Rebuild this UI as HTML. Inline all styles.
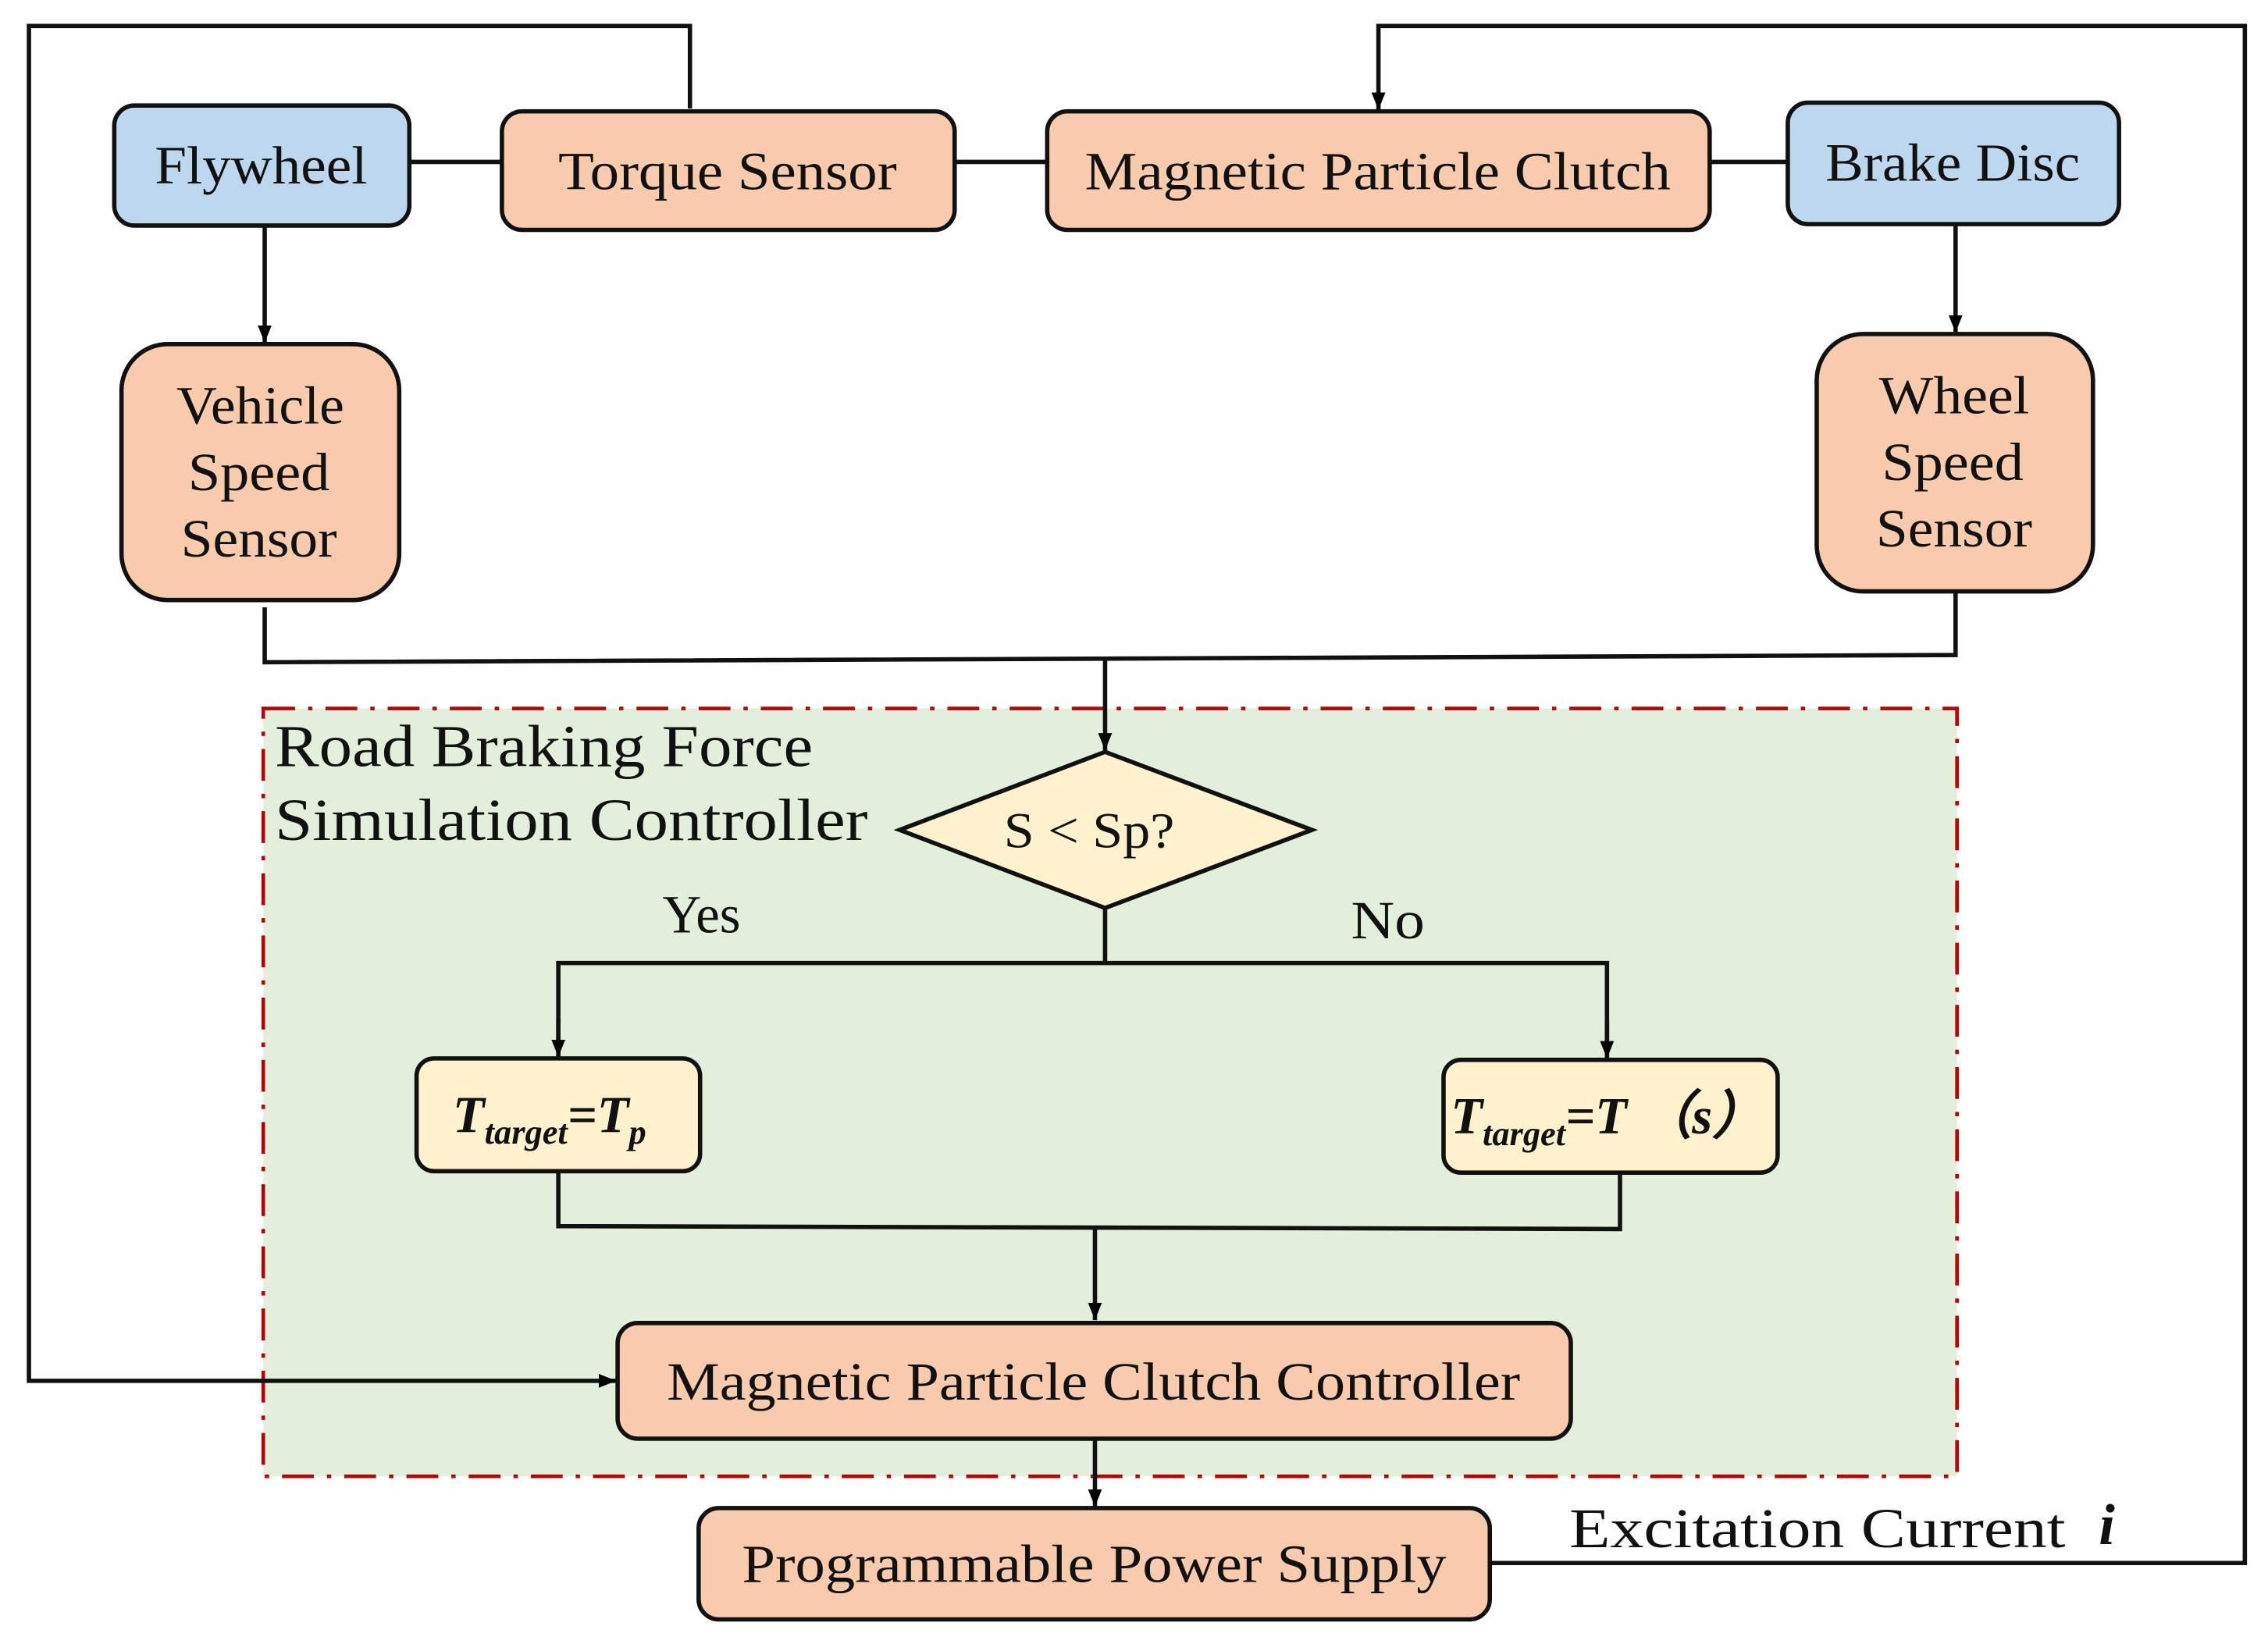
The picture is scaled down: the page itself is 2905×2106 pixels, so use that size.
<!DOCTYPE html>
<html><head><meta charset="utf-8"><style>
html,body{margin:0;padding:0;background:#fff;}
svg{display:block;}
text{font-family:"Liberation Serif",serif;fill:#111;}
</style></head><body>
<svg width="2905" height="2106" viewBox="0 0 1568 1137" preserveAspectRatio="none" xmlns="http://www.w3.org/2000/svg">
<defs>
<marker id="b" viewBox="0 0 10 10" refX="10" refY="5" markerWidth="12" markerHeight="12" orient="auto" markerUnits="userSpaceOnUse">
<path d="M0,1 L10,5 L0,9 z" fill="#000"/>
</marker>
</defs>
<rect x="182" y="490" width="1171" height="531" fill="#e2efda" stroke="#c00000" stroke-width="2.5" stroke-dasharray="22,9,3,9"/>
<g fill="none" stroke="#111" stroke-width="3">
<polyline points="477,75 477,18 20,18 20,955 426,955" marker-end="url(#b)"/>
<polyline points="1030,1081 1552,1081 1552,18 953,18 953,76" marker-end="url(#b)"/>
<line x1="283" y1="112" x2="347" y2="112"/>
<line x1="660" y1="112" x2="724" y2="112"/>
<line x1="1182" y1="112" x2="1236" y2="112"/>
<line x1="183" y1="156" x2="183" y2="237" marker-end="url(#b)"/>
<line x1="1352" y1="155" x2="1352" y2="230" marker-end="url(#b)"/>
<polyline points="183,420 183,458 1352,453 1352,409"/>
<line x1="764" y1="455" x2="764" y2="519" marker-end="url(#b)"/>
<line x1="764" y1="628" x2="764" y2="666"/>
<polyline points="386,731 386,666 1111,666 1111,731" />
<line x1="386" y1="705" x2="386" y2="731" marker-end="url(#b)"/>
<line x1="1111" y1="705" x2="1111" y2="732" marker-end="url(#b)"/>
<polyline points="386,810 386,848 1120,850 1120,811"/>
<line x1="757" y1="848" x2="757" y2="913" marker-end="url(#b)"/>
<line x1="757" y1="995" x2="757" y2="1042" marker-end="url(#b)"/>
</g>
<g stroke="#111" stroke-width="3">
<rect x="79" y="73" width="204" height="83" rx="14" fill="#bdd7ee"/>
<rect x="347" y="77" width="313" height="82" rx="14" fill="#f8cbad"/>
<rect x="724" y="77" width="458" height="82" rx="14" fill="#f8cbad"/>
<rect x="1236" y="71" width="229" height="84" rx="14" fill="#bdd7ee"/>
<rect x="84" y="238" width="192" height="177" rx="32" fill="#f8cbad"/>
<rect x="1256" y="231" width="191" height="178" rx="32" fill="#f8cbad"/>
<polygon points="764,520 907,574 764,628 622,574" fill="#fff2cc"/>
<rect x="288" y="732" width="196" height="78" rx="12" fill="#fff2cc"/>
<rect x="998" y="733" width="231" height="78" rx="12" fill="#fff2cc"/>
<rect x="427" y="915" width="659" height="80" rx="14" fill="#f8cbad"/>
<rect x="483" y="1043" width="547" height="77" rx="14" fill="#f8cbad"/>
</g>
<g font-size="37" lengthAdjust="spacingAndGlyphs">
<text x="107" y="127" textLength="147" lengthAdjust="spacingAndGlyphs">Flywheel</text>
<text x="386" y="131" textLength="234" lengthAdjust="spacingAndGlyphs">Torque Sensor</text>
<text x="750" y="131" textLength="405" lengthAdjust="spacingAndGlyphs">Magnetic Particle Clutch</text>
<text x="1262" y="125" textLength="176" lengthAdjust="spacingAndGlyphs">Brake Disc</text>
<text x="122" y="293" textLength="116" lengthAdjust="spacingAndGlyphs">Vehicle</text>
<text x="130" y="339" textLength="98" lengthAdjust="spacingAndGlyphs">Speed</text>
<text x="125" y="385" textLength="108" lengthAdjust="spacingAndGlyphs">Sensor</text>
<text x="1299" y="286" textLength="104" lengthAdjust="spacingAndGlyphs">Wheel</text>
<text x="1301" y="332" textLength="98" lengthAdjust="spacingAndGlyphs">Speed</text>
<text x="1297" y="378" textLength="108" lengthAdjust="spacingAndGlyphs">Sensor</text>
<text x="461" y="968" textLength="590" lengthAdjust="spacingAndGlyphs">Magnetic Particle Clutch Controller</text>
<text x="513" y="1094" textLength="487" lengthAdjust="spacingAndGlyphs">Programmable Power Supply</text>
<text x="694" y="586" font-size="35" textLength="118" lengthAdjust="spacingAndGlyphs">S &lt; Sp?</text>
<text x="458" y="645" textLength="54" lengthAdjust="spacingAndGlyphs">Yes</text>
<text x="934" y="649" textLength="51" lengthAdjust="spacingAndGlyphs">No</text>
</g>
<text x="190" y="530" font-size="41" textLength="372" lengthAdjust="spacingAndGlyphs">Road Braking Force</text>
<text x="190" y="581" font-size="41" textLength="410" lengthAdjust="spacingAndGlyphs">Simulation Controller</text>
<text x="1085" y="1070" font-size="39" textLength="343" lengthAdjust="spacingAndGlyphs">Excitation Current</text>
<text x="1451" y="1068" font-size="40" font-style="italic" font-weight="bold">i</text>
<text x="313" y="783" font-size="36" font-style="italic" font-weight="bold">T<tspan font-size="24" dy="8">target</tspan><tspan dy="-8">=T</tspan><tspan font-size="24" dy="8">p</tspan></text>
<text x="1003" y="784" font-size="36" font-style="italic" font-weight="bold">T<tspan font-size="24" dy="8">target</tspan><tspan dy="-8">=T （s）</tspan></text>
</svg>
</body></html>
